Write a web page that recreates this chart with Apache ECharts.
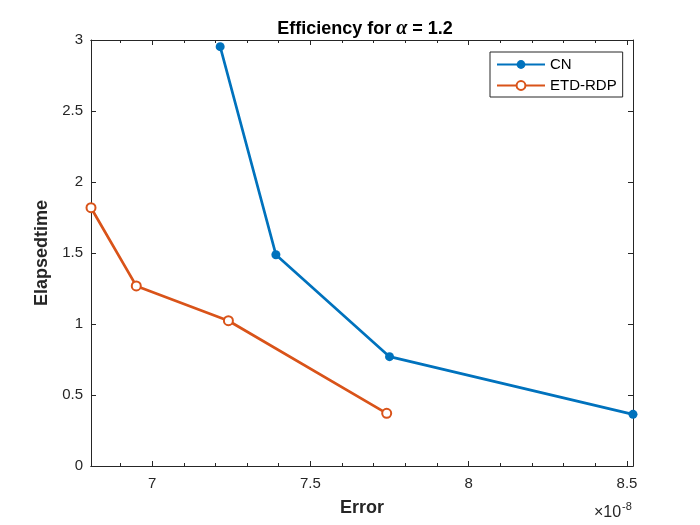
<!DOCTYPE html>
<html>
<head>
<meta charset="utf-8">
<title>Efficiency for alpha = 1.2</title>
<script src="https://cdn.jsdelivr.net/npm/echarts@6/dist/echarts.min.js"></script>
<style>
  html, body { margin: 0; padding: 0; background: #fff; }
  #chart { width: 700px; height: 525px; }
</style>
</head>
<body>
<div id="chart"></div>
<script>
// 数据（误差单位 ×1e-8）
const seriesNames = ['CN', 'ETD-RDP'];
const cnError = [7.215, 7.391, 7.750, 8.519];
const cnTime = [2.953, 1.488, 0.770, 0.364];
const etdError = [6.807, 6.950, 7.241, 7.741];
const etdTime = [1.819, 1.268, 1.023, 0.371];

// 刻度
const xMajorTicks = [7, 7.5, 8, 8.5];
const xMinorTicks = [6.9, 7.1, 7.2, 7.3, 7.4, 7.6, 7.7, 7.8, 7.9, 8.1, 8.2, 8.3, 8.4];
const yTicks = [0, 0.5, 1, 1.5, 2, 2.5, 3];

const FONT = '"Liberation Sans", Arial, Helvetica, sans-serif';
const AXIS_COLOR = '#262626';

const xMin = Math.min(...cnError, ...etdError);
const xMax = Math.max(...cnError, ...etdError);

const chart = echarts.init(document.getElementById('chart'));

// 生成一个 x 轴（主刻度 / 次刻度，顶部 / 底部）
function makeXAxis(position, ticks, tickLen, withLabels) {
  return {
    type: 'value',
    position: position,
    min: xMin,
    max: xMax,
    axisLine: { show: true, onZero: false, lineStyle: { color: AXIS_COLOR, width: 1 } },
    axisTick: { show: true, inside: true, length: tickLen, customValues: ticks,
      lineStyle: { color: AXIS_COLOR, width: 1 } },
    axisLabel: withLabels
      ? { show: true, customValues: ticks, color: AXIS_COLOR, fontSize: 15, fontFamily: FONT, margin: 10,
          formatter: v => String(v) }
      : { show: false },
    splitLine: { show: false },
    name: withLabels ? 'Error' : '',
    nameLocation: 'middle',
    nameGap: 33,
    nameTextStyle: { color: AXIS_COLOR, fontSize: 18, fontWeight: 'bold', fontFamily: FONT }
  };
}

function makeYAxis(position, withLabels) {
  return {
    type: 'value',
    position: position,
    min: 0,
    max: 3,
    interval: 0.5,
    axisLine: { show: true, onZero: false, lineStyle: { color: AXIS_COLOR, width: 1 } },
    axisTick: { show: true, inside: true, length: 5, lineStyle: { color: AXIS_COLOR, width: 1 } },
    axisLabel: withLabels
      ? { show: true, color: AXIS_COLOR, fontSize: 15, fontFamily: FONT, margin: 8,
          formatter: v => yTicks.includes(v) ? String(v) : '' }
      : { show: false },
    splitLine: { show: false },
    name: withLabels ? 'Elapsedtime' : '',
    nameLocation: 'middle',
    nameGap: 37,
    nameTextStyle: { color: AXIS_COLOR, fontSize: 18, fontWeight: 'bold', fontFamily: FONT }
  };
}

chart.setOption({
  animation: false,
  backgroundColor: '#fff',
  title: {
    text: '{b|Efficiency for }{a|α}{b| = 1.2}',
    left: 360,
    textAlign: 'center',
    top: 14,
    textStyle: {
      rich: {
        b: { fontSize: 18, fontWeight: 'bold', color: '#000', fontFamily: FONT },
        a: { fontSize: 20, fontStyle: 'italic', color: '#000', fontFamily: '"Liberation Serif", "DejaVu Serif", serif' }
      }
    }
  },
  legend: {
    data: seriesNames,
    orient: 'vertical',
    left: 490,
    top: 52,
    itemWidth: 48,
    itemHeight: 11,
    itemGap: 6,
    padding: [5, 6, 4, 6],
    borderColor: AXIS_COLOR,
    borderWidth: 1,
    borderRadius: 0,
    backgroundColor: '#fff',
    textStyle: { color: '#000', fontSize: 15, fontFamily: FONT }
  },
  grid: { left: 91, right: 67, top: 40, bottom: 59, containLabel: false },
  xAxis: [
    makeXAxis('bottom', xMajorTicks, 5, true),
    makeXAxis('bottom', xMinorTicks, 3, false),
    makeXAxis('top', xMajorTicks, 5, false),
    makeXAxis('top', xMinorTicks, 3, false)
  ],
  yAxis: [
    makeYAxis('left', true),
    makeYAxis('right', false)
  ],
  graphic: [
    {
      type: 'text',
      left: 594,
      top: 505,
      style: { text: '×10', fontSize: 16, fill: AXIS_COLOR, fontFamily: FONT }
    },
    {
      type: 'text',
      left: 622,
      top: 501,
      style: { text: '-8', fontSize: 11, fill: AXIS_COLOR, fontFamily: FONT }
    }
  ],
  series: [
    {
      name: 'CN',
      type: 'line',
      xAxisIndex: 0,
      yAxisIndex: 0,
      data: cnError.map((x, i) => [x, cnTime[i]]),
      symbol: 'circle',
      symbolSize: 9,
      itemStyle: { color: '#0072BD' },
      lineStyle: { color: '#0072BD', width: 2.7 }
    },
    {
      name: 'ETD-RDP',
      type: 'line',
      xAxisIndex: 0,
      yAxisIndex: 0,
      data: etdError.map((x, i) => [x, etdTime[i]]),
      symbol: 'emptyCircle',
      symbolSize: 9,
      itemStyle: { color: '#D95319', borderColor: '#D95319', borderWidth: 2.5 },
      lineStyle: { color: '#D95319', width: 2.7 }
    }
  ]
});

window.addEventListener('resize', () => chart.resize());
</script>
</body>
</html>
